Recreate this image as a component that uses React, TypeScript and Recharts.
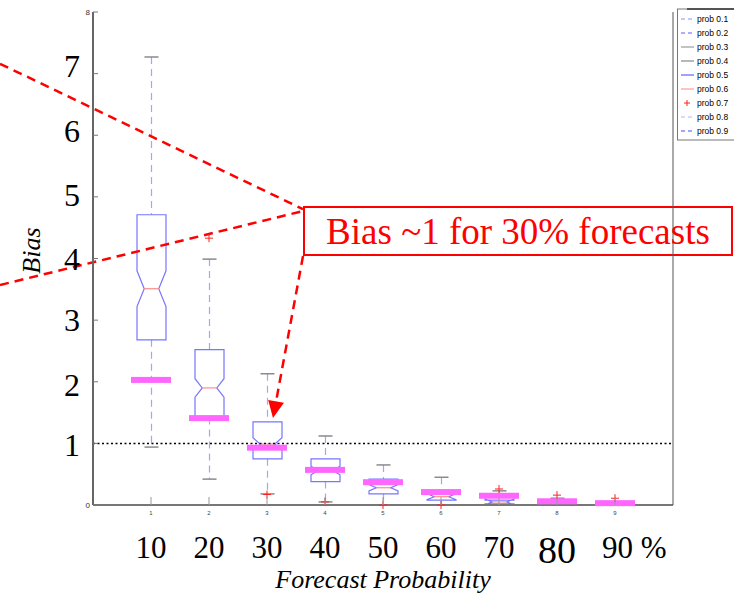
import React from 'react';
import {
  ComposedChart,
  Bar,
  Scatter,
  XAxis,
  YAxis,
  ReferenceLine,
  ReferenceArea,
  Legend,
} from 'recharts';

// Bias distribution per forecast probability bin (notched box plots)
const probabilities = [10, 20, 30, 40, 50, 60, 70, 80, 90];
const whiskerLow = [0.94, 0.42, 0.18, 0.05, 0, 0, 0, 0, 0];
const lowerQuartile = [2.68, 1.42, 0.75, 0.38, 0.18, 0.08, 0.02, 0, 0];
const medians = [3.51, 1.9, 0.99, 0.56, 0.28, 0.135, 0.05, 0.01, 0.005];
const upperQuartile = [4.71, 2.52, 1.35, 0.75, 0.42, 0.22, 0.08, 0.02, 0.01];
const whiskerHigh = [7.27, 3.99, 2.13, 1.12, 0.65, 0.45, 0.23, 0.11, 0.03];
const notchHalf = [0.29, 0.15, 0.1, 0.07, 0.05, 0.05, 0.05, 0.02, 0.01];
// pooled bias per bin (thick magenta marks)
const pooledBias = [2.03, 1.41, 0.93, 0.57, 0.37, 0.21, 0.15, 0.06, 0.03];

const outlierProb = [20, 30, 40, 50, 60, 70, 80, 90];
const outlierBias = [4.33, 0.17, 0.05, 0, 0, 0.26, 0.16, 0.11];

const xTickLabels = ['10', '20', '30', '40', '50', '60', '70', '80', '90 %'];
const yTicks = [0, 1, 2, 3, 4, 5, 6, 7, 8];

const legendNames = ['prob 0.1', 'prob 0.2', 'prob 0.3', 'prob 0.4', 'prob 0.5', 'prob 0.6', 'prob 0.7', 'prob 0.8', 'prob 0.9'];
const legendColors = ['#8c8cff', '#5c5cff', '#9a9a9a', '#888888', '#6060ff', '#ff9a9a', '#ff2020', '#b4b4ff', '#4848ff'];
const legendStyles = ['dash', 'dash', 'solid', 'solid', 'solid', 'solid', 'plus', 'dash', 'dash'];

// annotation geometry, in data units
const calloutText = 'Bias ~1 for 30% forecasts';
const calloutX = [36.38, 110.17];
const calloutY = [4.057, 4.836];
const pointerUpper = [{ x: -16.03, y: 7.16 }, { x: 36.21, y: 4.8 }];
const pointerLower = [{ x: -16.03, y: 3.57 }, { x: 36.21, y: 4.77 }];
const arrowSegment = [{ x: 36.21, y: 4.04 }, { x: 31.03, y: 1.41 }];

const rows = probabilities.map((p, i) => ({
  prob: p,
  lo: whiskerLow[i],
  q1: lowerQuartile[i],
  med: medians[i],
  q3: upperQuartile[i],
  hi: whiskerHigh[i],
  notch: notchHalf[i],
  pooled: pooledBias[i],
}));

const outlierRows = outlierProb.map((p, i) => ({ prob: p, bias: outlierBias[i] }));

const SERIF = "'Liberation Serif', 'Times New Roman', serif";
const SANS = "'Liberation Sans', Arial, sans-serif";
const RED = '#ff0000';

function BoxShape(props: any) {
  const { x, y, width, height, payload } = props;
  const { lo, q1, med, q3, hi, notch } = payload;
  const span = hi - lo;
  const py = (v: number) => (span > 0 ? y + (height * (hi - v)) / span : y + height);
  const cx = x + width / 2;
  const half = width / 2;
  const inner = half * 0.5;
  const xl = cx - half;
  const xr = cx + half;
  const d = [
    `M${xl},${py(q3)}`,
    `L${xl},${py(med + notch)}`,
    `L${cx - inner},${py(med)}`,
    `L${xl},${py(med - notch)}`,
    `L${xl},${py(q1)}`,
    `L${xr},${py(q1)}`,
    `L${xr},${py(med - notch)}`,
    `L${cx + inner},${py(med)}`,
    `L${xr},${py(med + notch)}`,
    `L${xr},${py(q3)}`,
    'Z',
  ].join(' ');
  return (
    <g>
      <line x1={cx} x2={cx} y1={py(hi)} y2={py(q3)} stroke="#a4a4ff" strokeWidth={1.2} strokeDasharray="7 5" />
      <line x1={cx} x2={cx} y1={py(q1)} y2={py(lo)} stroke="#a4a4ff" strokeWidth={1.2} strokeDasharray="7 5" />
      <line x1={cx - 7} x2={cx + 7} y1={py(hi)} y2={py(hi)} stroke="#8a8a8a" strokeWidth={1.5} />
      <line x1={cx - 7} x2={cx + 7} y1={py(lo)} y2={py(lo)} stroke="#8a8a8a" strokeWidth={1.5} />
      <path d={d} fill="none" stroke="#7676ff" strokeWidth={1.2} />
      <line x1={cx - inner} x2={cx + inner} y1={py(med)} y2={py(med)} stroke="#ff8c8c" strokeWidth={1.2} />
    </g>
  );
}

function PooledMark({ cx, cy }: any) {
  return <rect x={cx - 20} y={cy - 3} width={40} height={6} fill="#ff66ff" />;
}

function OutlierMark({ cx, cy }: any) {
  return (
    <g stroke="#ff2020" strokeWidth={1}>
      <line x1={cx - 4} x2={cx + 4} y1={cy} y2={cy} />
      <line x1={cx} x2={cx} y1={cy - 4} y2={cy + 4} />
    </g>
  );
}

function ArrowLine(props: any) {
  const { x1, y1, x2, y2 } = props;
  const dx = x2 - x1;
  const dy = y2 - y1;
  const len = Math.hypot(dx, dy) || 1;
  const ux = dx / len;
  const uy = dy / len;
  const head = 17;
  const wing = 8;
  const bx = x2 - ux * head;
  const by = y2 - uy * head;
  return (
    <g>
      <line x1={x1} y1={y1} x2={bx} y2={by} stroke={RED} strokeWidth={2.5} strokeDasharray="9 6" />
      <polygon
        points={`${x2},${y2} ${bx - uy * wing},${by + ux * wing} ${bx + uy * wing},${by - ux * wing}`}
        fill={RED}
      />
    </g>
  );
}

// big slide-style numbers sit slightly off their ticks
const yLabelNudge: Record<number, number> = { 7: -8, 6: -4, 5: -2, 2: 3, 1: 2 };

function LeftTick({ x, y, payload }: any) {
  const v = payload.value;
  return (
    <g>
      <line x1={x} x2={x + 5} y1={y} y2={y} stroke="#777" />
      {v === 0 || v === 8 ? (
        <text x={x - 3} y={y} dy={3} textAnchor="end" fontSize={8} fontFamily={SANS} fill="#333">
          {v}
        </text>
      ) : (
        <text x={x - 21} y={y + (yLabelNudge[v] ?? 0)} dy={11} textAnchor="middle" fontSize={32} fontFamily={SERIF} fill="#000">
          {v}
        </text>
      )}
    </g>
  );
}

function RightTick({ x, y }: any) {
  return <line x1={x - 5} x2={x} y1={y} y2={y} stroke="#777" />;
}

function TopTick({ x, y }: any) {
  return <line x1={x} x2={x} y1={y} y2={y + 8} stroke="#aaa" />;
}

function BottomTick({ x, y, payload }: any) {
  const i = probabilities.indexOf(payload.value);
  const label = xTickLabels[i];
  const big = label === '80';
  const pct = label.includes('%');
  return (
    <g>
      <line x1={x} x2={x} y1={y - 8} y2={y} stroke="#999" />
      <text x={x} y={y + 10} textAnchor="middle" fontSize={6} fontFamily={SANS} fill="#444">
        {i + 1}
      </text>
      <text
        x={pct ? x - 13 : x}
        y={y + (big ? 58 : 53)}
        textAnchor={pct ? 'start' : 'middle'}
        fontSize={big ? 38 : 31}
        fontFamily={SERIF}
        fill="#000"
      >
        {label}
      </text>
    </g>
  );
}

function ProbLegend() {
  return (
    <svg width={60} height={134} style={{ display: 'block' }}>
      <rect x={0.5} y={1} width={70} height={131} fill="#fff" stroke="#777" />
      <line x1={10} x2={60} y1={1} y2={1} stroke="#333" strokeWidth={1.5} />
      {legendNames.map((name, i) => {
        const cy = 11 + i * 14;
        const color = legendColors[i];
        const style = legendStyles[i];
        return (
          <g key={name}>
            {style === 'plus' ? (
              <g stroke={color}>
                <line x1={7} x2={13} y1={cy} y2={cy} />
                <line x1={10} x2={10} y1={cy - 3} y2={cy + 3} />
              </g>
            ) : (
              <line
                x1={4}
                x2={17}
                y1={cy}
                y2={cy}
                stroke={color}
                strokeWidth={style === 'solid' ? 1.2 : 1}
                strokeDasharray={style === 'dash' ? '4 3' : undefined}
              />
            )}
            <text x={20} y={cy + 3} fontSize={8.5} fontFamily="'Liberation Sans Narrow', 'Liberation Sans', sans-serif" fill="#000">
              {name}
            </text>
          </g>
        );
      })}
    </svg>
  );
}

export default function App() {
  return (
    <div style={{ position: 'absolute', left: 0, top: 0, width: 734, height: 596, background: '#fff' }}>
      <ComposedChart width={734} height={596} data={rows} margin={{ top: 12, right: 0, bottom: 0, left: 0 }}>
        <XAxis
          dataKey="prob"
          type="number"
          domain={[0, 100]}
          ticks={probabilities}
          interval={0}
          height={91}
          tickSize={0}
          tickMargin={0}
          tickLine={false}
          axisLine={{ stroke: '#777', strokeWidth: 2 }}
          tick={(p: any) => <BottomTick {...p} />}
          label={{ value: 'Forecast Probability', position: 'insideBottom', offset: 8, fontSize: 26, fontStyle: 'italic', fontFamily: SERIF, fill: '#000' }}
        />
        <XAxis
          xAxisId="top"
          dataKey="prob"
          type="number"
          orientation="top"
          domain={[0, 100]}
          ticks={probabilities}
          interval={0}
          height={0}
          tickSize={0}
          tickMargin={0}
          tickLine={false}
          axisLine={{ stroke: '#c4c4c4' }}
          tick={(p: any) => <TopTick {...p} />}
        />
        <YAxis
          type="number"
          domain={[0, 8]}
          ticks={yTicks}
          interval={0}
          width={93}
          tickSize={0}
          tickMargin={0}
          tickLine={false}
          axisLine={{ stroke: '#666', strokeWidth: 2 }}
          tick={(p: any) => <LeftTick {...p} />}
          label={{ value: 'Bias', position: 'center', angle: -90, dx: -16, dy: -8, fontSize: 26, fontStyle: 'italic', fontFamily: SERIF, fill: '#000' }}
        />
        <YAxis
          yAxisId="right"
          orientation="right"
          type="number"
          domain={[0, 8]}
          ticks={yTicks}
          interval={0}
          width={61}
          tickSize={0}
          tickMargin={0}
          tickLine={false}
          axisLine={{ stroke: '#555' }}
          tick={(p: any) => <RightTick {...p} />}
        />
        <Legend
          layout="horizontal"
          verticalAlign="middle"
          align="center"
          wrapperStyle={{ left: 677, top: 8, width: 57, height: 134 }}
          content={() => <ProbLegend />}
        />
        <ReferenceLine y={1} stroke="#000" strokeWidth={1.5} strokeDasharray="2 2.5" />
        <Bar dataKey={(d: any) => [d.lo, d.hi]} barSize={29} shape={BoxShape} isAnimationActive={false} />
        <Scatter dataKey="pooled" shape={PooledMark} isAnimationActive={false} />
        <Scatter data={outlierRows} dataKey="bias" shape={OutlierMark} isAnimationActive={false} />
        <ReferenceLine segment={pointerUpper} ifOverflow="visible" stroke={RED} strokeWidth={2.5} strokeDasharray="9 6" />
        <ReferenceLine segment={pointerLower} ifOverflow="visible" stroke={RED} strokeWidth={2.5} strokeDasharray="9 6" />
        <ReferenceArea
          x1={calloutX[0]}
          x2={calloutX[1]}
          y1={calloutY[0]}
          y2={calloutY[1]}
          ifOverflow="visible"
          fill="none"
          stroke={RED}
          strokeWidth={2}
          label={{ value: calloutText, position: 'center', fill: RED, fontSize: 37, fontFamily: SERIF }}
        />
        <ReferenceLine segment={arrowSegment} ifOverflow="visible" shape={(p: any) => <ArrowLine {...p} />} />
      </ComposedChart>
    </div>
  );
}
